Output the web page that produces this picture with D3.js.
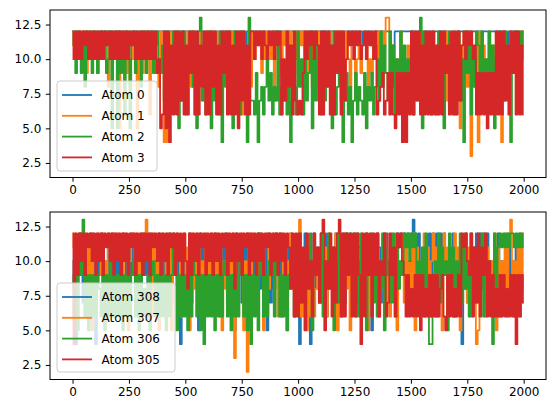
<!DOCTYPE html>
<html lang="en">
<head>
<meta charset="UTF-8">
<title>Atom coordination traces</title>
<script src="https://d3js.org/d3.v7.min.js"></script>
<style>
    body { margin: 0; background: #fff; }
    text { font-family: "DejaVu Sans", sans-serif; }
</style>
</head>
<body>
<script>
    // one character per sampled frame (every 8th step), hex digits: a=10, b=11, c=12, d=13
    var frameStep = 8;

    var topNames = ["Atom 0", "Atom 1", "Atom 2", "Atom 3"];
    var bottomNames = ["Atom 308", "Atom 307", "Atom 306", "Atom 305"];
    var colors = ["#1f77b4", "#ff7f0e", "#2ca02c", "#d62728"];

    var atom0 = "cccccbcccccccbcccccccccbc" + "cccccccbcccccccccccbccccc" + "ccccccccccccccccccccbbccc" +
        "cccccbcccccccccccccccbccc" + "ccccccccbcccccccccccccccc" + "ccccbccccccccccccccccbccc" +
        "cccccccccccbccccbbccccccc" + "ccbbccccccccccccccccccccc" + "cccccccccbbcccccccccccccc" +
        "ccccccccccccccccbcccccccc" + "c";
    var atom1 = "cbcacbca9cbcac9bcacb8cbca" + "c5bca9c8acb5ac9bca6cb9a8c" + "94a4c9b8ca7c9bca8c6b9ca7c" +
        "b9c8ac7b9cab8c7a9cb6c9ac8" + "cabcb9cacbac7cb9acbcacb9c" + "acbcac9b8cac7b9ca8c6b9cac" +
        "b9ca8cb7ac9bcb8a9cbac9cbd" + "dc9b8a7c9a6b8c9a7bca8c9b7" + "cab9c8ac7b9ca8c5b9a8c3b8c" +
        "4c9b8ac7b9cab4c8a9cbac9ca" + "c";
    var atom2 = "cb9ca9b8cba9cb9acbc9ac5bc" + "5c9b6ca5bc9ab8cb9cac9bca9" + "b7c6a8c9c5b7c6a9c8b5cd7b6" +
        "8c5b7a6c4b8c7a5c9b6c8a4d7" + "76947868a79687c68796b4786" + "c8a6b79c5a7b86c7a9b5c68a7" +
        "4796847968769587968a7c8b9" + "7c8b6a9c5b7a8c6b9cd5c7a86" + "8a6c7b5a9c7b68c7a4c9b6a8c" +
        "b7c9a6c8b5a9cb7c8a4b9ca8c" + "b";
    var atom3 = "cacacacbcacacacacacbcacac" + "acacacacbcacacacacacac9a5" + "6c5c4b6c6c7c6b6c9c6c6b8c6" +
        "c6c8c6b6c9c6c6b6c5c7c6b6c" + "cacbcacbacbcacbc6a7c8b6c7" + "6769cacbcacb6c6c8c6b6c9c6" +
        "c7acbcacbcabcacbcac678967" + "9696596949496c6c7c6b6c6c6" + "c6b6c6c9b6c6c6c7bcacbcab6" +
        "9696959696c6c6c7b6c9c6c6b" + "6";

    var atom308 = "a84b9c7a9b8ca4b9c8a7b9c6a" + "9b7ca8b6c9a7b8c9a7cb8a9c7" + "b9a8c7b9a64b8a9c7b9a5c8b9" +
        "a7b9c8a6b9c7a8b5c9a7b8c6a" + "9b7c8a9b5c7a8b9c6a7b8c9a7" + "b4a8c7b49c8a7b9c6a8b7c9a8" +
        "b7c9a8b6cb9a7c8b5a9cb7a8c" + "9a8b7cbcbcbcbcdcbc9a7b8c6" + "cbcbcbca8b7c6a9b48c7a9b8c" +
        "bcbcbc9a7b8c6a9b7c8a6b7c9" + "8";
    var atom307 = "bca9cbacb9c5bacb9ca8cbacb" + "cab9cb5acbca9cbcdab6c9a5b" + "ca8cb5a9cb6ac9b5ca8cb6a9c" +
        "b8ca6c9b5a8cb7c3ab9c5a2c8" + "cab9ca5bc8a9cb6ac9b5ac8b6" + "8d697586968a7c8b6c9a7c5b8" +
        "6c8a5b7c9a6b8c5a7b9c6a8c7" + "a6c8b5a9c7b6a8c5b9a7c6b8a" + "c6b8a5c9b7a6c8b5a9c7b6a84" +
        "5a8c6b7a9c5b8a7c6bd9a7b6c" + "7";
    var atom306 = "9695c9d69596969869596a696" + "969596969a6959686959a6969" + "695969c9596969596a9695949" +
        "696959696a96959696b969594" + "9695c9696a9b6c9696959a969" + "9c7a6b8c5a9b7c6a8c9b5a7c6" +
        "cbcacbc7a6c8b5a9c7b6a8c5b" + "9a7c6b8a9cbcacbc7a8b6c744" + "8a6c7b9a5c8b6a9c7b8a6c9b7" +
        "a8c6b9a74c6bcbcbcbccbcbcb" + "c";
    var atom305 = "c4c9cac9cbcac9cac9cbcac9c" + "ac9cac9cbc9cac9cac9cbcac9" + "cac9cbc9cac9ca8c9cac9cbc9" +
        "cac9cac9cbc9cac8cac9cbc9c" + "ac9cac9cbc9cac9cac9cb8c6c" + "6c7b5c8a6c9b7cd5a8c6b7cd6" +
        "c6c9c6c6c94c6c9c6c9c6a9c6" + "7c9b6cbca9696869695968696" + "9696896596968696cbca9c6b7" +
        "c6b9c6a696869696869694969" + "7";

    var xTicks = [0, 250, 500, 750, 1000, 1250, 1500, 1750, 2000];
    var yTicks = [2.5, 5.0, 7.5, 10.0, 12.5];

    function decode(s) {
        return s.split("").map(function(c, i) { return {step: i * frameStep, v: parseInt(c, 16)}; });
    }

    var W = 556, H = 413;
    var left = 50, right = 546;

    var svg = d3.select("body").append("svg")
        .attr("width", W)
        .attr("height", H);

    var xScale = d3.scaleLinear().domain([-99.95, 2098.95]).range([left, right]);

    function panel(top, bottom, names, series, legendBox, id) {
        var yScale = d3.scaleLinear().domain([1.45, 13.55]).range([bottom, top]);

        svg.append("clipPath").attr("id", id)
            .append("rect")
            .attr("x", left).attr("y", top)
            .attr("width", right - left).attr("height", bottom - top);

        // the real trace has ~4 frames per pixel, so draw the samples as steps
        var line = d3.line()
            .curve(d3.curveStep)
            .x(function(d) { return xScale(d.step); })
            .y(function(d) { return yScale(d.v); });

        var g = svg.append("g").attr("clip-path", "url(#" + id + ")");
        series.forEach(function(s, i) {
            g.append("path")
                .datum(decode(s))
                .attr("d", line)
                .attr("fill", "none")
                .attr("stroke", colors[i])
                .attr("stroke-width", 1.8)
                .attr("stroke-linejoin", "round");
        });

        // x-axis
        var xa = svg.append("g")
            .attr("transform", "translate(0," + bottom + ")")
            .call(d3.axisBottom(xScale).tickValues(xTicks).tickFormat(d3.format("d")).tickSize(4.2).tickPadding(4));
        xa.select(".domain").remove();
        // y-axis
        var ya = svg.append("g")
            .attr("transform", "translate(" + left + ",0)")
            .call(d3.axisLeft(yScale).tickValues(yTicks).tickFormat(d3.format(".1f")).tickSize(4.2).tickPadding(4.5));
        ya.select(".domain").remove();
        svg.selectAll(".tick text").style("font-size", "12px").attr("fill", "#000")
            .style("font-family", "'DejaVu Sans', sans-serif");
        svg.selectAll(".tick line").attr("stroke", "#000").attr("stroke-width", 1);

        // frame
        svg.append("rect")
            .attr("x", left).attr("y", top)
            .attr("width", right - left).attr("height", bottom - top)
            .attr("fill", "none").attr("stroke", "#000").attr("stroke-width", 1);

        // legend
        var lg = svg.append("g");
        lg.append("rect")
            .attr("x", legendBox.x).attr("y", legendBox.y)
            .attr("width", legendBox.w).attr("height", legendBox.h)
            .attr("rx", 3)
            .attr("fill", "#fff").attr("fill-opacity", 0.8)
            .attr("stroke", "#cccccc").attr("stroke-width", 1);
        names.forEach(function(n, i) {
            var cy = legendBox.y + 14 + i * 20.8;
            lg.append("line")
                .attr("x1", legendBox.x + 5).attr("x2", legendBox.x + 35)
                .attr("y1", cy).attr("y2", cy)
                .attr("stroke", colors[i]).attr("stroke-width", 1.8);
            lg.append("text")
                .attr("x", legendBox.x + 44.5).attr("y", cy)
                .attr("dy", "0.35em")
                .style("font-size", "12px")
                .text(n);
        });
    }

    panel(10, 177.5, topNames, [atom0, atom1, atom2, atom3], {x: 57, y: 81, w: 100, h: 90}, "clipTop");
    panel(212, 379.5, bottomNames, [atom308, atom307, atom306, atom305], {x: 57, y: 283, w: 118, h: 89}, "clipBottom");
</script>
</body>
</html>
